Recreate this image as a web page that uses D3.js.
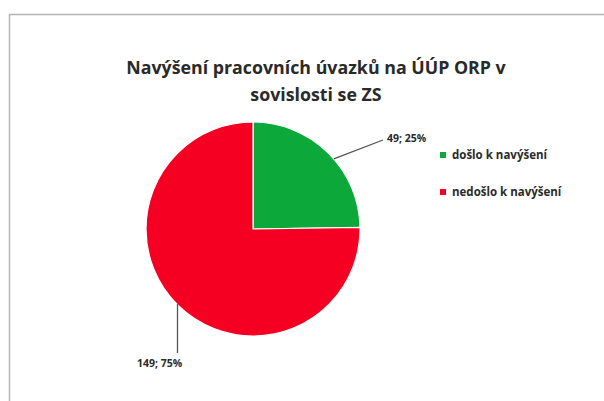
<!DOCTYPE html>
<html><head><meta charset="utf-8">
<script src="https://cdn.jsdelivr.net/npm/d3@7"></script>
<style>body{margin:0;background:#fff;}svg{display:block;}</style>
</head><body>
<script>
const categories = ["došlo k navýšení", "nedošlo k navýšení"];
const values = [49, 149];
const percentLabels = ["25%", "75%"];
const colors = ["#0ca83a", "#f50022"];
const title = ["Navýšení pracovních úvazků na ÚÚP ORP v", "sovislosti se ZS"];

const W = 604, H = 401;
const svg = d3.select("body").append("svg").attr("width", W).attr("height", H);
svg.append("rect").attr("width", W).attr("height", H).attr("fill", "#fff");
// frame
svg.append("path").attr("d", "M9.5,401 L9.5,14.5 L604,14.5").attr("fill", "none")
  .attr("stroke", "#b5b5b5").attr("stroke-width", 1.5);

const font = "'Open Sans', sans-serif";
svg.selectAll("text.title").data(title).enter().append("text")
  .attr("x", 316).attr("y", (d, i) => 74 + i * 27)
  .attr("text-anchor", "middle").attr("font-family", font).attr("font-weight", "bold")
  .attr("font-size", 17.8).attr("fill", "#2a2a2a").text(d => d);

const cx = 253, cy = 229, r = 107;
const pie = d3.pie().sort(null).value(d => d)(values);
const arc = d3.arc().innerRadius(0).outerRadius(r);
const g = svg.append("g").attr("transform", `translate(${cx},${cy})`);
g.selectAll("path").data(pie).enter().append("path")
  .attr("d", arc).attr("fill", (d, i) => colors[i])
  .attr("stroke", "#fff").attr("stroke-width", 1.2);

// leader lines and labels
const lbl = [
  {pts: () => { const a = pie[0].startAngle + (pie[0].endAngle - pie[0].startAngle) * 0.55; const p = [Math.sin(a)*r, -Math.cos(a)*r]; return [p, [130, -89]]; }, tx: 134, ty: -87},
  {pts: () => { const a = 3.93; const p = [Math.sin(a)*r*0.995, -Math.cos(a)*r*0.995]; return [p, [p[0], 124]]; }, tx: -116, ty: 138}
];
lbl.forEach((L, i) => {
  const pts = L.pts();
  g.append("polyline").attr("points", pts.map(p => p.join(",")).join(" "))
    .attr("fill", "none").attr("stroke", "#555").attr("stroke-width", 1.3);
  g.append("text").attr("x", L.tx).attr("y", L.ty)
    .attr("font-family", font).attr("font-weight", "bold").attr("font-size", 10.5)
    .attr("fill", "#2a2a2a").text(values[i] + "; " + percentLabels[i]);
});

// legend
const lg = svg.append("g");
categories.forEach((c, i) => {
  const y = 155 + i * 37;
  lg.append("rect").attr("x", 440).attr("y", y - 3).attr("width", 6).attr("height", 6).attr("fill", colors[i]);
  lg.append("text").attr("x", 452).attr("y", y + 4).attr("font-family", font).attr("font-weight", "bold")
    .attr("font-size", 11.5).attr("fill", "#2a2a2a").text(c);
});
</script>
</body></html>
